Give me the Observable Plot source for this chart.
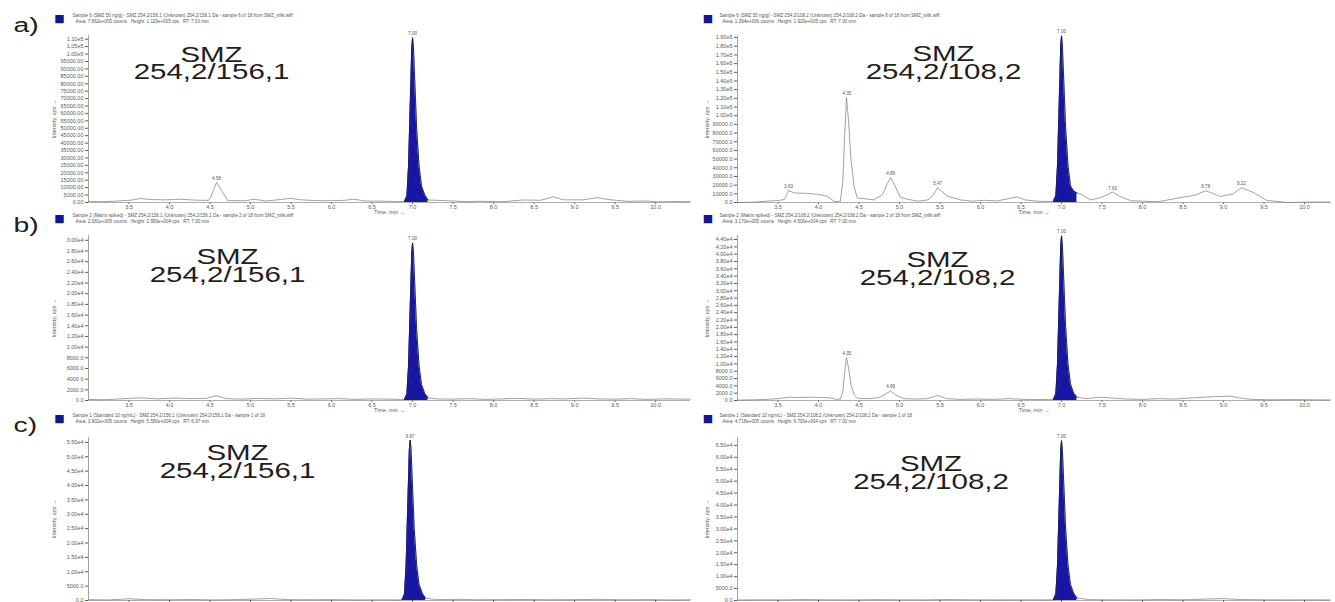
<!DOCTYPE html>
<html>
<head>
<meta charset="utf-8">
<script src="https://cdn.jsdelivr.net/npm/d3@7"></script>
<script src="https://cdn.jsdelivr.net/npm/@observablehq/plot@0.6"></script>
<style>
html, body { margin: 0; padding: 0; background: #fff; width: 1335px; height: 602px; overflow: hidden; }
#wrap { position: relative; width: 1335px; height: 602px; overflow: hidden; background: #fff; }
.panel { position: absolute; }
</style>
</head>
<body>
<div id="wrap"></div>
<script>
// ---------- DATA ----------
const xTicks = [3.5, 4.0, 4.5, 5.0, 5.5, 6.0, 6.5, 7.0, 7.5, 8.0, 8.5, 9.0, 9.5, 10.0];

// y tick values per panel
const yTicks_aL = [0, 5000, 10000, 15000, 20000, 25000, 30000, 35000, 40000, 45000, 50000, 55000, 60000, 65000, 70000, 75000, 80000, 85000, 90000, 95000, 100000, 105000, 110000];
const yTicks_aR = [0, 10000, 20000, 30000, 40000, 50000, 60000, 70000, 80000, 90000, 100000, 110000, 120000, 130000, 140000, 150000, 160000, 170000, 180000, 190000];
const yTicks_bL = [0, 2000, 4000, 6000, 8000, 10000, 12000, 14000, 16000, 18000, 20000, 22000, 24000, 26000, 28000, 30000];
const yTicks_bR = [0, 2000, 4000, 6000, 8000, 10000, 12000, 14000, 16000, 18000, 20000, 22000, 24000, 26000, 28000, 30000, 32000, 34000, 36000, 38000, 40000, 42000, 44000];
const yTicks_cL = [0, 5000, 10000, 15000, 20000, 25000, 30000, 35000, 40000, 45000, 50000, 55000];
const yTicks_cR = [0, 5000, 10000, 15000, 20000, 25000, 30000, 35000, 40000, 45000, 50000, 55000, 60000, 65000];

// chromatogram traces: [time (min), intensity (cps)]
const aL_base = [[3.00,800],[3.15,500],[3.33,900],[3.52,1500],[3.64,2700],[3.77,2000],[3.95,1800],[4.14,2200],[4.32,1600],[4.48,1400],[4.51,3700],[4.58,13500],[4.65,7300],[4.72,1300],[4.94,1200],[5.04,2200],[5.19,1000],[5.37,2000],[5.49,2800],[5.62,1800],[5.80,1300],[5.99,1200],[6.17,1500],[6.27,2200],[6.42,1000],[6.60,900],[6.79,700],[7.43,1200],[7.65,600],[7.84,800],[8.09,500],[8.37,1700],[8.58,1500],[8.74,3800],[8.86,1800],[9.11,1800],[9.28,3300],[9.41,2000],[9.65,800],[9.88,1000],[10.02,400],[10.25,700],[10.43,500]];
const aL_peak = [[6.90,600],[6.93,4400],[6.95,24400],[6.97,64400],[6.99,104300],[7.00,111000],[7.01,105500],[7.03,77700],[7.05,50000],[7.08,24400],[7.11,11100],[7.15,5000],[7.19,1700]];
const aL_labels = [[4.58,13500],[7.00,111000]];

const aR_base = [[3.00,0],[3.20,300],[3.35,1500],[3.50,2300],[3.58,3500],[3.63,13800],[3.70,11000],[3.85,10500],[3.98,9500],[4.10,7500],[4.20,1000],[4.27,1500],[4.30,25000],[4.32,70000],[4.345,121000],[4.37,95000],[4.40,50000],[4.44,18000],[4.48,5000],[4.56,4500],[4.68,3000],[4.79,9000],[4.85,22000],[4.89,28800],[4.94,20000],[5.01,6000],[5.11,3500],[5.23,1500],[5.35,3000],[5.42,9000],[5.47,17000],[5.59,7500],[5.75,3000],[5.90,1500],[6.05,2500],[6.20,1800],[6.30,3500],[6.45,6500],[6.55,3000],[6.70,1500],[6.85,1200],[7.23,10000],[7.36,3000],[7.48,5500],[7.63,12000],[7.72,7000],[7.86,2000],[8.00,1500],[8.20,1000],[8.40,4500],[8.65,8500],[8.78,13500],[8.96,7000],[9.12,10000],[9.22,17000],[9.37,11500],[9.53,2500],[9.79,0],[10.05,500],[10.32,500]];
const aR_peak = [[6.90,1500],[6.93,7700],[6.95,42200],[6.97,111400],[6.99,180500],[7.00,192000],[7.01,182400],[7.03,134400],[7.05,86400],[7.08,42200],[7.11,19200],[7.15,13000],[7.19,11000]];
const aR_labels = [[3.63,13800],[4.35,121000],[4.89,28800],[5.47,17000],[7.00,192000],[7.63,12000],[8.78,13500],[9.22,17000]];

const bL_base = [[3.00,200],[3.20,150],[3.45,350],[3.65,500],[3.85,300],[4.05,450],[4.25,350],[4.45,400],[4.58,900],[4.70,350],[4.90,250],[5.10,400],[5.30,300],[5.50,450],[5.70,250],[5.90,300],[6.10,350],[6.30,200],[6.50,300],[6.70,250],[6.85,200],[7.30,300],[7.50,250],[7.70,350],[7.90,200],[8.10,300],[8.30,400],[8.50,250],[8.70,350],[8.90,300],[9.10,450],[9.30,300],[9.50,250],[9.70,350],[9.90,200],[10.10,300],[10.43,250]];
const bL_peak = [[6.90,200],[6.93,1200],[6.95,6500],[6.97,17100],[6.99,27700],[7.00,29500],[7.01,28000],[7.03,20700],[7.05,13300],[7.08,6500],[7.11,3000],[7.15,1300],[7.19,500]];
const bL_labels = [[7.00,29500]];

const bR_base = [[3.00,100],[3.20,200],[3.35,300],[3.50,500],[3.63,900],[3.75,800],[3.90,900],[4.05,800],[4.15,700],[4.22,300],[4.27,400],[4.30,2500],[4.32,7000],[4.345,11700],[4.37,9000],[4.40,4500],[4.44,1600],[4.48,600],[4.60,500],[4.75,800],[4.83,1800],[4.89,2600],[4.95,1500],[5.05,500],[5.20,400],[5.35,500],[5.47,1400],[5.58,500],[5.75,300],[5.95,400],[6.15,300],[6.35,500],[6.55,300],[6.75,250],[6.86,300],[7.30,500],[7.48,900],[7.60,700],[7.80,400],[8.00,300],[8.20,500],[8.40,400],[8.60,700],[8.85,1000],[9.09,1200],[9.20,700],[9.35,300],[9.60,200],[9.90,250],[10.10,200],[10.32,150]];
const bR_peak = [[6.90,300],[6.93,1800],[6.95,9900],[6.97,26100],[6.99,42300],[7.00,45000],[7.01,42800],[7.03,31500],[7.05,20300],[7.08,9900],[7.11,4500],[7.15,2000],[7.19,900]];
const bR_labels = [[4.35,11700],[4.89,2600],[7.00,45000]];

const cL_base = [[3.00,300],[3.25,200],[3.50,600],[3.70,300],[4.00,250],[4.30,350],[4.55,200],[4.80,300],[5.05,500],[5.25,700],[5.45,300],[5.70,250],[6.00,300],[6.30,200],[6.60,250],[6.82,200],[7.30,300],[7.55,400],[7.80,250],[8.10,300],[8.40,350],[8.70,250],[9.00,300],[9.30,400],[9.60,250],[9.90,300],[10.20,200],[10.43,250]];
const cL_peak = [[6.87,250],[6.90,2200],[6.92,12300],[6.94,32400],[6.96,52500],[6.97,55800],[6.98,53000],[7.00,39100],[7.02,25100],[7.05,12300],[7.08,5600],[7.12,2500],[7.16,800]];
const cL_labels = [[6.97,55800]];

const cR_base = [[3.00,200],[3.30,300],[3.55,250],[3.80,400],[4.10,300],[4.40,250],[4.70,350],[5.00,300],[5.30,250],[5.60,400],[5.90,300],[6.20,250],[6.50,300],[6.80,250],[7.35,350],[7.60,300],[7.90,250],[8.20,400],[8.50,300],[8.80,600],[9.00,800],[9.20,400],[9.50,300],[9.80,250],[10.10,300],[10.32,200]];
const cR_peak = [[6.90,300],[6.93,2700],[6.95,14700],[6.97,38900],[6.99,63000],[7.00,67000],[7.01,63700],[7.03,46900],[7.05,30200],[7.08,14700],[7.11,6700],[7.15,3000],[7.19,1000]];
const cR_labels = [[7.00,67000]];

const compound = "SMZ";
const transitionL = "254,2/156,1";
const transitionR = "254,2/108,2";
const panelTags = ["a)", "b)", "c)"];

const headers = {
  aL: ["Sample 6 (SMZ 50 ng/g) - SMZ 254.2/156.1 (Unknown) 254.2/156.1 Da - sample 6 of 18 from SMZ_milk.wiff", "Area: 7.862e+005 counts   Height: 1.110e+005 cps   RT: 7.00 min"],
  aR: ["Sample 6 (SMZ 50 ng/g) - SMZ 254.2/108.2 (Unknown) 254.2/108.2 Da - sample 6 of 18 from SMZ_milk.wiff", "Area: 1.364e+006 counts   Height: 1.920e+005 cps   RT: 7.00 min"],
  bL: ["Sample 2 (Matrix spiked) - SMZ 254.2/156.1 (Unknown) 254.2/156.1 Da - sample 2 of 18 from SMZ_milk.wiff", "Area: 2.081e+005 counts   Height: 2.950e+004 cps   RT: 7.00 min"],
  bR: ["Sample 2 (Matrix spiked) - SMZ 254.2/108.2 (Unknown) 254.2/108.2 Da - sample 2 of 18 from SMZ_milk.wiff", "Area: 3.170e+005 counts   Height: 4.500e+004 cps   RT: 7.00 min"],
  cL: ["Sample 1 (Standard 10 ng/mL) - SMZ 254.2/156.1 (Unknown) 254.2/156.1 Da - sample 1 of 18", "Area: 3.902e+005 counts   Height: 5.580e+004 cps   RT: 6.97 min"],
  cR: ["Sample 1 (Standard 10 ng/mL) - SMZ 254.2/108.2 (Unknown) 254.2/108.2 Da - sample 1 of 18", "Area: 4.718e+005 counts   Height: 6.700e+004 cps   RT: 7.00 min"]
};

// ---------- RENDER ----------
const FONT = "'Liberation Sans', Arial, Helvetica, sans-serif";
const expFmt = v => v.toExponential(2).replace("e+", "e");
const makeFmt = (thr, dec) => v => (v >= thr ? expFmt(v) : v.toFixed(dec));
// horizontal stretch of the large labels (keyed by font size), as in the source figure
const stretch = {22: 1.34, 21: 1.35};

function panel(c) {
  const toObj = p => ({t: p[0], v: p[1]});
  const peak = c.peak.map(toObj);
  const trace = c.base.map(toObj).concat(peak).sort((a, b) => a.t - b.t);
  const labels = c.labels.map(toObj);
  const H = 215;
  const ml = c.ml, mt = c.mt;
  const fa = (x, y) => ({frameAnchor: "top-left", dx: x - ml, dy: y - mt});
  const marks = [
    Plot.ruleY([0], {stroke: "#9a9a9a", strokeWidth: 0.8}),
    Plot.ruleX([c.xDom[0]], {stroke: "#8a8a8a", strokeWidth: 0.8}),
    Plot.areaY(peak, {x: "t", y: "v", fill: "#1717a3"}),
    Plot.line(trace, {x: "t", y: "v", stroke: "#7a7a7a", strokeWidth: 0.7}),
    Plot.line(peak, {x: "t", y: "v", stroke: "#06065e", strokeWidth: 0.8}),
    Plot.text(labels, {x: "t", y: "v", text: d => d.t.toFixed(2), dy: -2.5, lineAnchor: "bottom", fontSize: 4.6, fill: "#555"}),
    Plot.text(["■"], {...fa(c.sqX, 17.5), fontSize: 11, fill: "#15158e", textAnchor: "middle", lineAnchor: "middle", fontFamily: "DejaVu Sans"}),
    Plot.text([c.head[0]], {...fa(c.hX, 15.5), fontSize: 4.6, fill: "#555", textAnchor: "start", lineAnchor: "middle"}),
    Plot.text([c.head[1]], {...fa(c.hX + 3, 21), fontSize: 4.6, fill: "#555", textAnchor: "start", lineAnchor: "middle"}),
    // compound name and MRM transition, two centred lines set tightly as in the figure
    Plot.text([compound + "\n" + c.trans], {...fa(c.big[0], c.big[1]), fontSize: 22, lineHeight: 0.78, fill: "#1e1e1e", textAnchor: "middle", lineAnchor: "middle", fontFamily: FONT})
  ];
  if (c.tag) marks.push(Plot.text([c.tag], {...fa(13, c.tagY), fontSize: 21, fill: "#1e1e1e", textAnchor: "start", lineAnchor: "middle", fontFamily: FONT}));
  let xOpts = {domain: c.xDom, ticks: xTicks, tickFormat: d => d.toFixed(1), tickSize: 2, tickPadding: 1, label: "Time, min", labelAnchor: "center", labelOffset: 11};
  if (c.noXLabels) {
    // bottom row: the figure is cropped just below the baseline, only the tick marks show
    xOpts = {domain: c.xDom, axis: null};
    marks.push(Plot.ruleX(xTicks, {y1: 0, y2: -c.yMax * 0.012, stroke: "#5a5a5a", strokeWidth: 1}));
  }
  const svg = Plot.plot({
    width: c.width, height: H,
    marginLeft: ml, marginRight: c.mr, marginTop: mt, marginBottom: H - mt - c.ph,
    style: {background: "transparent", fontFamily: FONT, fontSize: "5.5px", color: "#5a5a5a", overflow: "visible"},
    x: xOpts,
    y: {domain: [0, c.yMax], ticks: c.yTicks, tickFormat: c.fmt, tickSize: 3, tickPadding: 2, label: "Intensity, cps", labelAnchor: "center", labelOffset: c.lo},
    marks
  });
  const div = document.createElement("div");
  div.className = "panel";
  div.style.left = c.left + "px";
  div.style.top = c.top + "px";
  div.style.width = c.width + "px";
  div.appendChild(svg);
  document.getElementById("wrap").appendChild(div);
  svg.querySelectorAll("text").forEach(t => {
    const fs = Math.round(parseFloat(getComputedStyle(t).fontSize));
    if (stretch[fs]) {
      const tr = t.getAttribute("transform") || "";
      t.setAttribute("transform", tr + ` scale(${stretch[fs]},1)`);
    }
  });
}

const L = {left: 0, width: 700, ml: 88, mr: 10, xDom: [3.0, 10.43], lo: 36, sqX: 59, hX: 72, trans: transitionL};
const R = {left: 667, width: 668, ml: 70, mr: 5, xDom: [3.0, 10.32], lo: 32, sqX: 40.5, hX: 52, trans: transitionR};

panel({...L, top: 0, mt: 35, ph: 167, yMax: 112500, yTicks: yTicks_aL, fmt: makeFmt(1e5, 2), base: aL_base, peak: aL_peak, labels: aL_labels, head: headers.aL, big: [211, 64.5], tag: panelTags[0], tagY: 24.5});
panel({...R, top: 0, mt: 35, ph: 167, yMax: 192400, yTicks: yTicks_aR, fmt: makeFmt(1e5, 1), base: aR_base, peak: aR_peak, labels: aR_labels, head: headers.aR, big: [276, 64]});
panel({...L, top: 200, mt: 35, ph: 165, yMax: 30900, yTicks: yTicks_bL, fmt: makeFmt(1e4, 1), base: bL_base, peak: bL_peak, labels: bL_labels, head: headers.bL, big: [227, 67], tag: panelTags[1], tagY: 25});
panel({...R, top: 200, mt: 35, ph: 165, yMax: 45100, yTicks: yTicks_bR, fmt: makeFmt(1e4, 1), base: bR_base, peak: bR_peak, labels: bR_labels, head: headers.bR, big: [270, 70]});
panel({...L, top: 400, mt: 37, ph: 163, yMax: 56700, yTicks: yTicks_cL, fmt: makeFmt(1e4, 1), base: cL_base, peak: cL_peak, labels: cL_labels, head: headers.cL, big: [237, 63], tag: panelTags[2], tagY: 25, noXLabels: true});
panel({...R, top: 400, mt: 37, ph: 163, yMax: 68300, yTicks: yTicks_cR, fmt: makeFmt(1e4, 1), base: cR_base, peak: cR_peak, labels: cR_labels, head: headers.cR, big: [263.5, 74], noXLabels: true});
</script>
</body>
</html>
